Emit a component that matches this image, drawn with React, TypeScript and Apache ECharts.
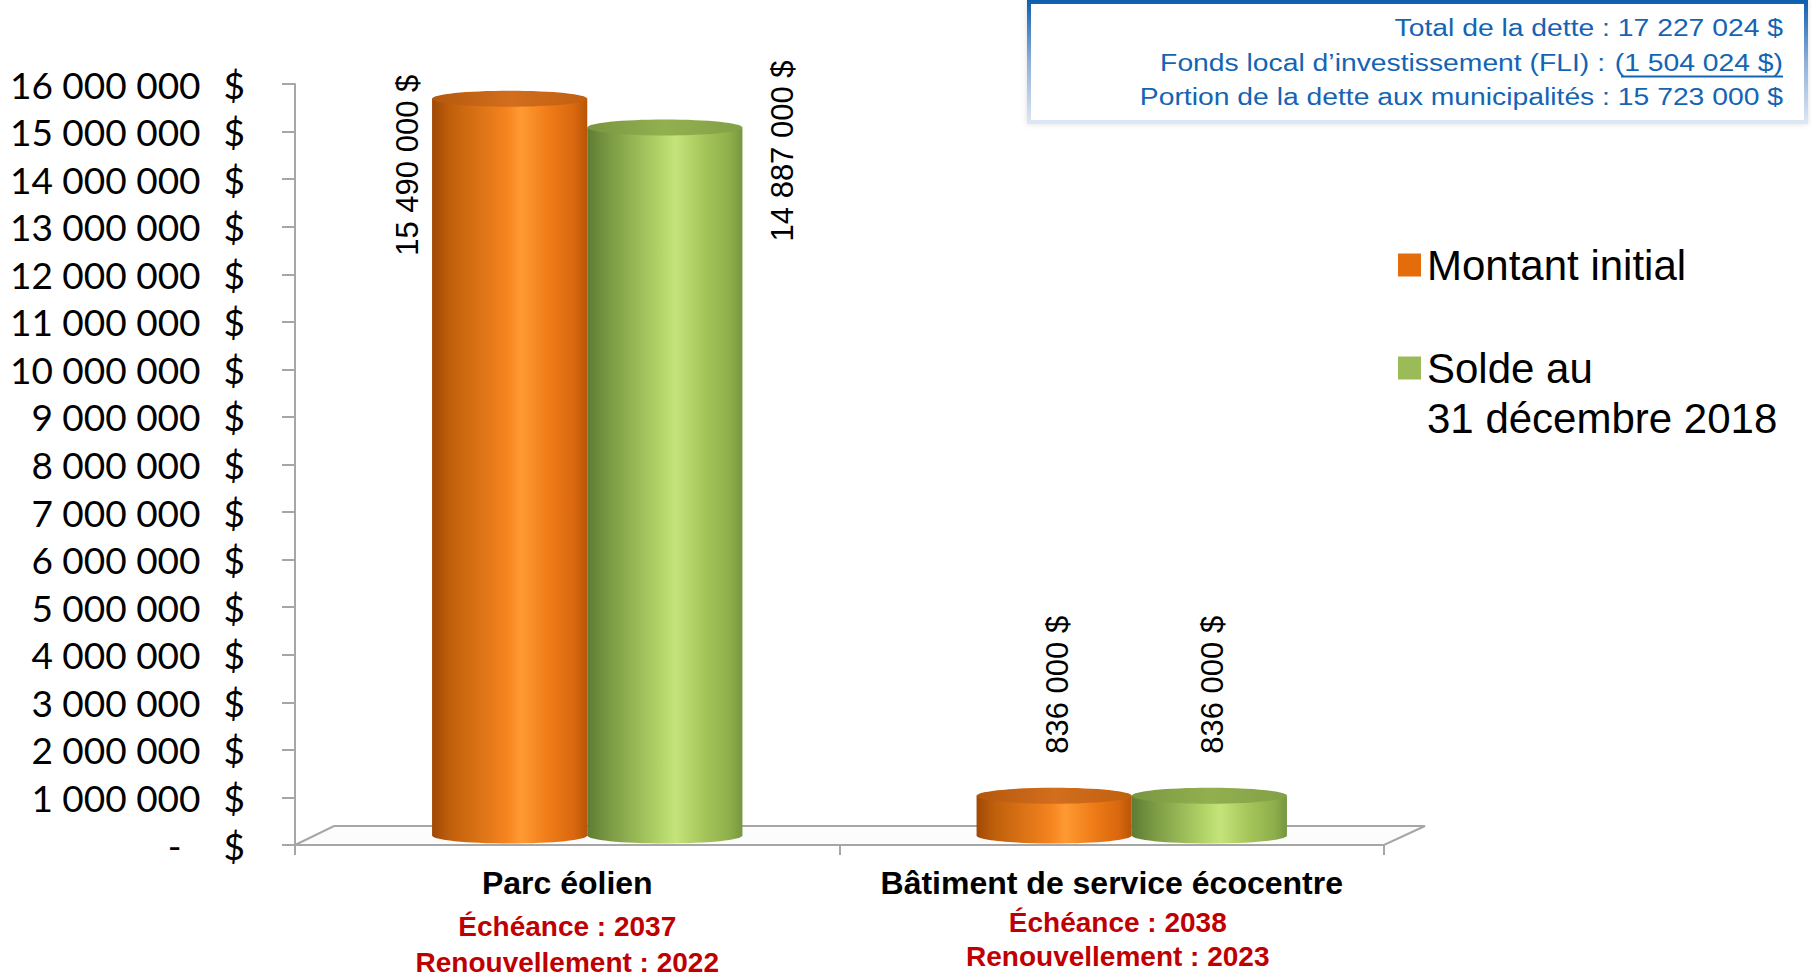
import React, { useEffect, useRef } from 'react';
import * as echarts from 'echarts';

// ---- Data ----
const categories = ['Parc éolien', 'Bâtiment de service écocentre'];
const echeances = ['2037', '2038'];
const renouvellements = ['2022', '2023'];
const seriesNames = ['Montant initial', 'Solde au 31 décembre 2018'];
const montantInitial = [15490000, 836000];
const soldeAu2018 = [14887000, 836000];
const yMin = 0;
const yMax = 16000000;
const yStep = 1000000;
const summaryLines = [
  'Total de la dette : 17 227 024 $',
  'Fonds local d’investissement (FLI) :',
  'Portion de la dette aux municipalités : 15 723 000 $',
];
const fliAmount = '(1 504 024 $)';

const SANS = "'Liberation Sans', Arial, Helvetica, sans-serif";
const fmt = (n: number) => String(Math.round(n)).replace(/\B(?=(\d{3})+(?!\d))/g, ' ');

const DX = 20;
const DY = -9.5;
const RY = 8;

const palettes = [
  {
    legend: '#E46C0A',
    side: [
      [0, '#A04805'],
      [0.12, '#C0600C'],
      [0.48, '#F5841E'],
      [0.57, '#FF9A33'],
      [0.75, '#EF7C17'],
      [0.92, '#D8670F'],
      [1, '#B85505'],
    ],
    top: [
      [0, '#B4570C'],
      [0.5, '#D26E1E'],
      [1, '#C0600F'],
    ],
    side_label: { dx: -25, fromLeft: true, dy: -24 },
  },
  {
    legend: '#9BBB59',
    side: [
      [0, '#5F7C33'],
      [0.15, '#7C9B44'],
      [0.48, '#B4D669'],
      [0.57, '#C4E47B'],
      [0.75, '#A6C65B'],
      [0.92, '#8EAE4B'],
      [1, '#76963F'],
    ],
    top: [
      [0, '#78963F'],
      [0.5, '#93B050'],
      [1, '#82A045'],
    ],
    side_label: { dx: 40, fromLeft: false, dy: -67 },
  },
];

const grad = (stops: any[]) => ({
  type: 'linear',
  x: 0,
  y: 0,
  x2: 1,
  y2: 0,
  colorStops: stops.map(([offset, color]) => ({ offset, color })),
});

function makeRender(si: number) {
  const p = palettes[si];
  return (params: any, api: any) => {
    const cat = api.value(0);
    const val = api.value(1);
    const base = api.coord([cat, 0]);
    const topPt = api.coord([cat, val]);
    const band = api.size([1, 0])[0];
    const w = band * 0.285;
    const cx = base[0] + DX + (si === 0 ? -w / 2 : w / 2);
    const x0 = cx - w / 2;
    const yb = base[1] + DY;
    const yt = topPt[1] + DY;
    const gridTop = params.coordSys.y;
    const labelText = fmt(val) + ' $';
    let label: any;
    if (yt - 40 - 190 < gridTop) {
      const sl = p.side_label;
      const lx = sl.fromLeft ? x0 + sl.dx : x0 + w + sl.dx;
      label = {
        type: 'text',
        x: lx,
        y: yt + sl.dy,
        rotation: Math.PI / 2,
        style: { text: labelText, fontSize: 31, fontFamily: SANS, fill: '#000', align: 'right', verticalAlign: 'middle' },
      };
    } else {
      label = {
        type: 'text',
        x: cx + 3,
        y: yt - 42,
        rotation: Math.PI / 2,
        style: { text: labelText, fontSize: 31, fontFamily: SANS, fill: '#000', align: 'left', verticalAlign: 'middle' },
      };
    }
    return {
      type: 'group',
      children: [
        { type: 'ellipse', shape: { cx, cy: yb, rx: w / 2, ry: RY }, style: { fill: grad(p.side) } },
        { type: 'rect', shape: { x: x0, y: yt, width: w, height: Math.max(0, yb - yt) }, style: { fill: grad(p.side) } },
        { type: 'ellipse', shape: { cx, cy: yt, rx: w / 2, ry: RY }, style: { fill: grad(p.top) } },
        label,
      ],
    };
  };
}

export default function App() {
  const ref = useRef<HTMLDivElement>(null);
  useEffect(() => {
    document.body.style.margin = '0';
    document.body.style.overflow = 'hidden';
    const chart = echarts.init(ref.current!, null, { renderer: 'svg' });
    const option: any = {
      animation: false,
      backgroundColor: '#ffffff',
      grid: { left: 295, top: 84, width: 1089, height: 762.7, containLabel: false },
      legend: {
        orient: 'vertical',
        left: 1393,
        top: 237,
        itemWidth: 23,
        itemHeight: 23,
        itemGap: 57,
        icon: 'rect',
        selectedMode: false,
        data: seriesNames,
        formatter: (name: string) => (name === seriesNames[1] ? 'Solde au' : name),
        textStyle: { fontSize: 42, fontFamily: SANS, color: '#000', lineHeight: 46, padding: [0, 0, 0, 1] },
      },
      xAxis: {
        type: 'category',
        data: categories,
        axisLine: { show: true, lineStyle: { color: '#A6A6A6', width: 2 } },
        axisTick: { show: true, length: 10, lineStyle: { color: '#A6A6A6', width: 2 } },
        axisLabel: {
          margin: 18,
          interval: 0,
          formatter: (value: string, idx: number) =>
            `{a|${value}}\n{b${idx}|Échéance : ${echeances[idx]}}\n{c${idx}|Renouvellement : ${renouvellements[idx]}}`,
          rich: {
            a: { fontSize: 32, fontWeight: 'bold', color: '#000', fontFamily: SANS, lineHeight: 40 },
            b0: { fontSize: 28, fontWeight: 'bold', color: '#C00000', fontFamily: SANS, lineHeight: 46 },
            c0: { fontSize: 28, fontWeight: 'bold', color: '#C00000', fontFamily: SANS, lineHeight: 26 },
            b1: { fontSize: 28, fontWeight: 'bold', color: '#C00000', fontFamily: SANS, lineHeight: 38, padding: [0, 0, 0, 12] },
            c1: { fontSize: 28, fontWeight: 'bold', color: '#C00000', fontFamily: SANS, lineHeight: 30, padding: [0, 0, 0, 12] },
          },
        },
      },
      yAxis: {
        type: 'value',
        min: yMin,
        max: yMax,
        interval: yStep,
        splitLine: { show: false },
        axisLine: { show: true, lineStyle: { color: '#A6A6A6', width: 2 } },
        axisTick: { show: true, length: 13, lineStyle: { color: '#A6A6A6', width: 2 } },
        axisLabel: {
          margin: 50,
          formatter: (v: number) => (v === 0 ? '{n|-}{z|$}' : `{n|${fmt(v)}}{d|$}`),
          rich: {
            n: { fontFamily: 'Lato', fontSize: 37, color: '#000' },
            d: { fontFamily: 'Lato', fontSize: 37, color: '#000', padding: [0, 0, 0, 23] },
            z: { fontFamily: 'Lato', fontSize: 37, color: '#000', padding: [0, 0, 0, 42] },
          },
        },
      },
      series: [
        {
          type: 'custom',
          name: 'floor',
          silent: true,
          z: 1,
          data: [[0, 0]],
          renderItem: (params: any) => {
            const cs = params.coordSys;
            const yb = cs.y + cs.height;
            return {
              type: 'polygon',
              shape: {
                points: [
                  [cs.x, yb],
                  [cs.x + cs.width, yb],
                  [cs.x + cs.width + 2 * DX + 1, yb + 2 * DY],
                  [cs.x + 2 * DX - 1, yb + 2 * DY],
                ],
              },
              style: { fill: '#FCFCFC', stroke: '#A6A6A6', lineWidth: 2 },
            };
          },
        },
        {
          type: 'custom',
          name: seriesNames[0],
          z: 3,
          itemStyle: { color: palettes[0].legend },
          encode: { x: 0, y: 1 },
          data: montantInitial.map((v, i) => [i, v]),
          renderItem: makeRender(0),
        },
        {
          type: 'custom',
          name: seriesNames[1],
          z: 4,
          itemStyle: { color: palettes[1].legend },
          encode: { x: 0, y: 1 },
          data: soldeAu2018.map((v, i) => [i, v]),
          renderItem: makeRender(1),
        },
      ],
      graphic: [
        {
          type: 'rect',
          shape: { x: 1029, y: 2, width: 777, height: 120 },
          style: {
            fill: '#fff',
            stroke: {
              type: 'linear',
              x: 0,
              y: 0,
              x2: 0,
              y2: 1,
              colorStops: [
                { offset: 0, color: '#1160B0' },
                { offset: 0.5, color: '#8FB0DA' },
                { offset: 1, color: '#DCE6F4' },
              ],
            },
            lineWidth: 4,
            shadowBlur: 6,
            shadowColor: 'rgba(0,0,0,0.12)',
          },
          z: 10,
        },
        {
          type: 'text',
          x: 1783,
          y: 28,
          scaleY: 0.85,
          z: 11,
          style: { text: summaryLines[0], fontSize: 28.3, fontFamily: SANS, fill: '#1464B4', align: 'right', verticalAlign: 'middle' },
        },
        {
          type: 'text',
          x: 1605,
          y: 63,
          scaleY: 0.85,
          z: 11,
          style: { text: summaryLines[1], fontSize: 28.3, fontFamily: SANS, fill: '#1464B4', align: 'right', verticalAlign: 'middle' },
        },
        {
          type: 'text',
          x: 1783,
          y: 63,
          scaleY: 0.85,
          z: 11,
          style: { text: fliAmount, fontSize: 28.3, fontFamily: SANS, fill: '#1464B4', align: 'right', verticalAlign: 'middle' },
        },
        {
          type: 'line',
          z: 11,
          shape: { x1: 1621, y1: 76.5, x2: 1783, y2: 76.5 },
          style: { stroke: '#1464B4', lineWidth: 2 },
        },
        {
          type: 'text',
          x: 1783,
          y: 97,
          scaleY: 0.85,
          z: 11,
          style: { text: summaryLines[2], fontSize: 28.3, fontFamily: SANS, fill: '#1464B4', align: 'right', verticalAlign: 'middle' },
        },
        {
          type: 'text',
          x: 1427,
          y: 418,
          z: 11,
          style: { text: '31 décembre 2018', fontSize: 42, fontFamily: SANS, fill: '#000', align: 'left', verticalAlign: 'middle' },
        },
      ],
    };
    chart.setOption(option);
    return () => chart.dispose();
  }, []);
  return <div ref={ref} style={{ width: 1811, height: 976 }} />;
}
